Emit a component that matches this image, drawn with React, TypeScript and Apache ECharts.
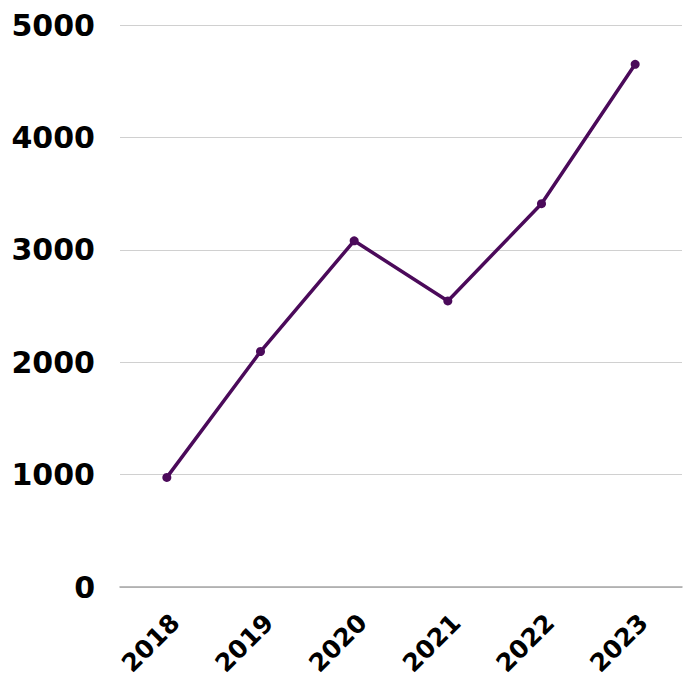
import React, { useEffect, useRef } from "react";
import * as echarts from "echarts";

const years = ["2018", "2019", "2020", "2021", "2022", "2023"];
const values = [975, 2095, 3080, 2545, 3410, 4650];
const yTicks = { min: 0, max: 5000, interval: 1000 };

export default function App() {
  const ref = useRef<HTMLDivElement>(null);
  useEffect(() => {
    if (!ref.current) return;
    const chart = echarts.init(ref.current, null, { renderer: "svg" });
    const font = "'DejaVu Sans', sans-serif";
    chart.setOption({
      animation: false,
      backgroundColor: "#ffffff",
      grid: { left: 120, right: 9, top: 25, bottom: 92, containLabel: false },
      xAxis: {
        type: "category",
        data: years,
        boundaryGap: true,
        axisLine: { show: true, lineStyle: { color: "#a6a6a6", width: 1.5 } },
        axisTick: { show: false },
        axisLabel: {
          rotate: 45,
          margin: 40,
          padding: [0, -12, 0, 0],
          color: "#000000",
          fontFamily: font,
          fontWeight: "bold",
          fontSize: 25,
        },
      },
      yAxis: {
        type: "value",
        min: yTicks.min,
        max: yTicks.max,
        interval: yTicks.interval,
        axisLine: { show: false },
        axisTick: { show: false },
        splitLine: { lineStyle: { color: "#d0d0d0", width: 1 } },
        axisLabel: {
          margin: 25,
          color: "#000000",
          fontFamily: font,
          fontWeight: "bold",
          fontSize: 30,
          formatter: (v: number) => String(v),
        },
      },
      series: [
        {
          type: "line",
          data: values,
          symbol: "circle",
          symbolSize: 9,
          showAllSymbol: true,
          lineStyle: { color: "#4b0a5a", width: 3.5 },
          itemStyle: { color: "#4b0a5a" },
        },
      ],
    });
    return () => chart.dispose();
  }, []);
  return (
    <div
      ref={ref}
      style={{ position: "fixed", left: 0, top: 0, width: 691, height: 679, background: "#fff" }}
    />
  );
}
